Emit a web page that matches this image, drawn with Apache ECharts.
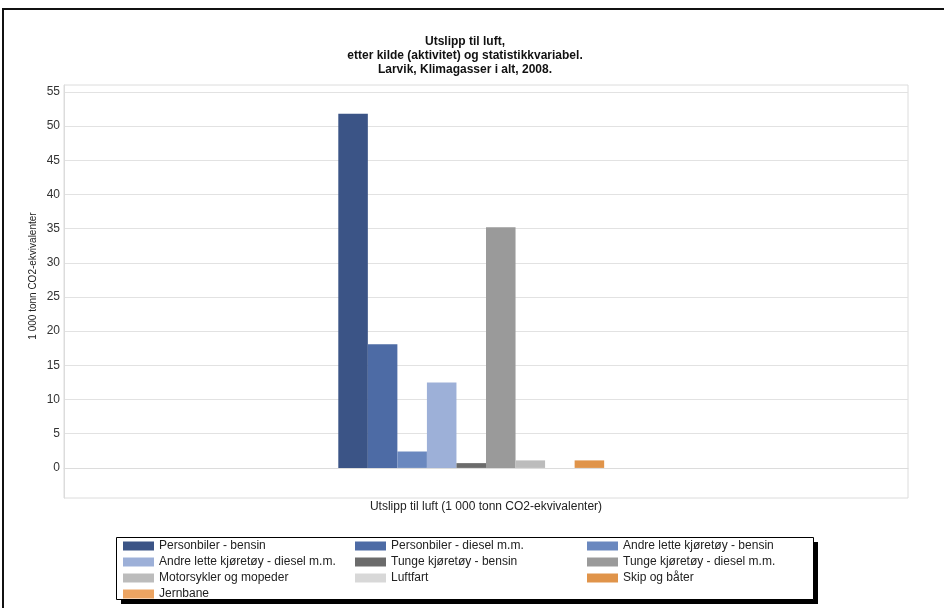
<!DOCTYPE html>
<html>
<head>
<meta charset="utf-8">
<script src="https://cdn.jsdelivr.net/npm/echarts@6/dist/echarts.min.js"></script>
<style>
  html, body { margin: 0; padding: 0; background: #fff; }
  #chart { width: 944px; height: 608px; }
</style>
</head>
<body>
<div id="chart"></div>
<script>
// Emissions to air by source, Larvik 2008 (1 000 tonnes CO2 equivalents)
const categories = ['Utslipp til luft (1 000 tonn CO2-ekvivalenter)'];
const seriesNames = [
  'Personbiler - bensin',
  'Personbiler - diesel m.m.',
  'Andre lette kjøretøy - bensin',
  'Andre lette kjøretøy - diesel m.m.',
  'Tunge kjøretøy - bensin',
  'Tunge kjøretøy - diesel m.m.',
  'Motorsykler og mopeder',
  'Luftfart',
  'Skip og båter',
  'Jernbane'
];
const seriesValues = [51.8, 18.1, 2.4, 12.5, 0.7, 35.2, 1.1, 0, 1.1, 0];
const yTicks = [0, 5, 10, 15, 20, 25, 30, 35, 40, 45, 50, 55];

const palette = [
  '#3b5486', '#4d6ba5', '#6a88bf', '#9db0d8', '#6b6b6b',
  '#9a9a9a', '#bcbcbc', '#d8d8d8', '#e0944a', '#eca462'
];

const FONT = 'Liberation Sans, Arial, sans-serif';
const chart = echarts.init(document.getElementById('chart'), null, { renderer: 'canvas' });

const series = seriesNames.map((name, i) => ({
  name: name,
  type: 'bar',
  data: [seriesValues[i]],
  barGap: '0%',
  barCategoryGap: '65%',
  itemStyle: { color: palette[i] },
  emphasis: { disabled: true }
}));

chart.setOption({
  animation: false,
  backgroundColor: '#fff',
  color: palette,
  title: {
    text: 'Utslipp til luft,\netter kilde (aktivitet) og statistikkvariabel.\nLarvik, Klimagasser i alt, 2008.',
    left: 465,
    top: 35,
    textAlign: 'center',
    padding: 0,
    textStyle: { fontFamily: FONT, fontSize: 12, fontWeight: 'bold', color: '#111', lineHeight: 14 }
  },
  graphic: [
    // outer frame
    {
      type: 'rect',
      silent: true,
      z: -10,
      shape: { x: 3, y: 9, width: 1000, height: 700 },
      style: { fill: 'none', stroke: '#111', lineWidth: 2 }
    },
    // legend box drop shadow
    {
      type: 'rect',
      silent: true,
      z: -6,
      shape: { x: 121, y: 542, width: 697, height: 62 },
      style: { fill: '#000' }
    },
    // legend box
    {
      type: 'rect',
      silent: true,
      z: -5,
      shape: { x: 116.5, y: 537.5, width: 697, height: 62 },
      style: { fill: '#fff', stroke: '#000', lineWidth: 1 }
    },
    // value axis title
    {
      type: 'text',
      silent: true,
      x: 33,
      y: 276,
      rotation: Math.PI / 2,
      style: {
        text: '1 000 tonn CO2-ekvivalenter',
        fontFamily: FONT, fontSize: 10, fill: '#222',
        textAlign: 'center', textVerticalAlign: 'middle'
      }
    }
  ],
  legend: {
    left: 123,
    top: 539,
    width: 700,
    padding: 0,
    itemGap: 2,
    itemWidth: 31,
    itemHeight: 9,
    icon: 'rect',
    selectedMode: false,
    textStyle: { fontFamily: FONT, fontSize: 12, color: '#222', width: 194, lineHeight: 14, padding: [0, 0, 0, 0] },
    data: seriesNames
  },
  grid: {
    left: 64,
    right: 36,
    top: 85,
    bottom: 110,
    show: true,
    borderColor: '#dcdcdc',
    borderWidth: 1,
    containLabel: false
  },
  xAxis: {
    type: 'category',
    data: categories,
    axisLine: { show: true, lineStyle: { color: '#dcdcdc' } },
    axisTick: { show: false },
    axisLabel: { fontFamily: FONT, fontSize: 12, color: '#222', margin: 3 },
    splitLine: { show: false }
  },
  yAxis: {
    type: 'value',
    min: -4.4,
    max: 56,
    axisLine: { show: true, lineStyle: { color: '#dcdcdc' } },
    axisTick: { show: false, customValues: yTicks },
    axisLabel: { fontFamily: FONT, fontSize: 12, color: '#333', margin: 4, customValues: yTicks },
    splitLine: { show: true, lineStyle: { color: '#e2e2e2', width: 1 } }
  },
  series: series
});
</script>
</body>
</html>
